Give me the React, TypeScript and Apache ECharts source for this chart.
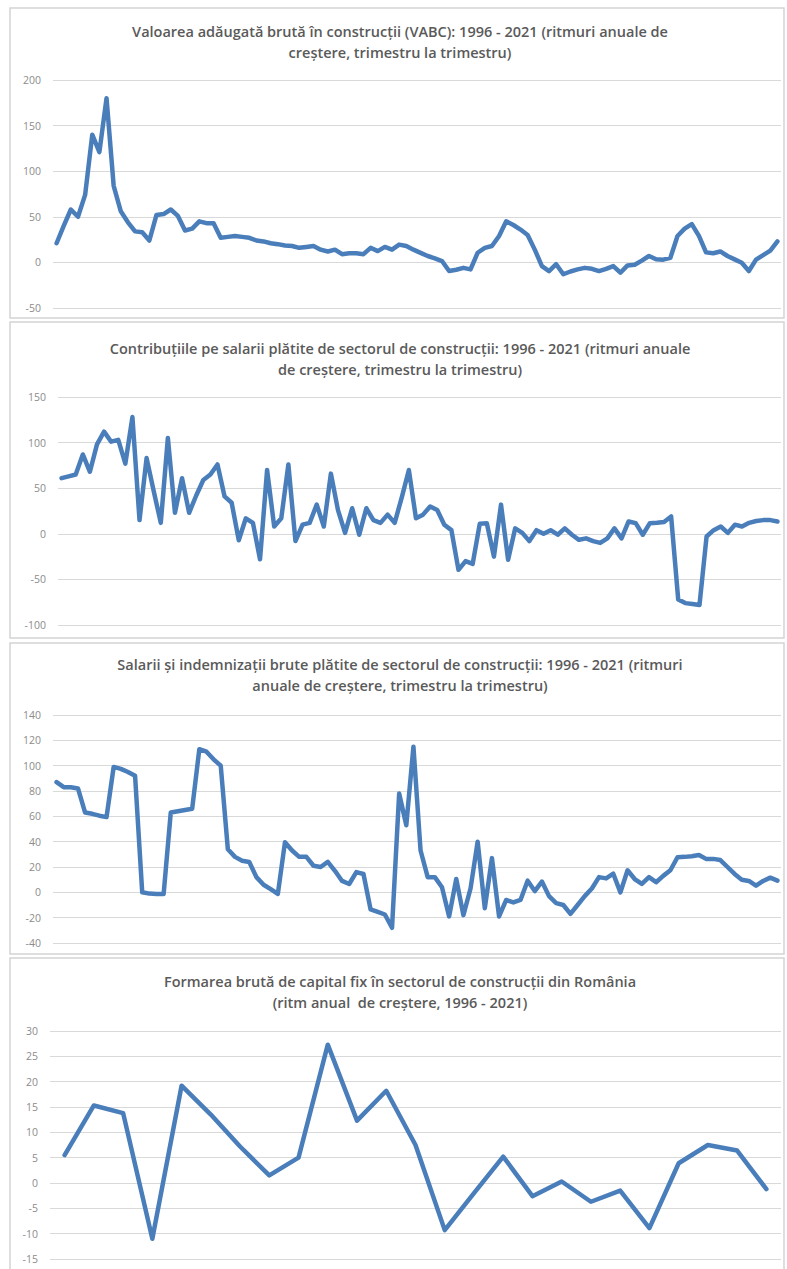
import React, { useEffect, useRef } from "react";
import * as echarts from "echarts";

// ---------- data ----------
const quarterYears = [
  1996, 1997, 1998, 1999, 2000, 2001, 2002, 2003, 2004, 2005, 2006, 2007, 2008,
  2009, 2010, 2011, 2012, 2013, 2014, 2015, 2016, 2017, 2018, 2019, 2020, 2021,
];
const quarterCategories: string[] = [];
quarterYears.forEach((y) => {
  for (let q = 1; q <= 4; q++) {
    if (y === 2021 && q > 2) break;
    quarterCategories.push(y + " T" + q);
  }
});
const annualCategories = [
  "1997", "1998", "1999", "2000", "2001", "2002", "2003", "2004", "2005", "2006",
  "2007", "2008", "2009", "2010", "2011", "2012", "2013", "2014", "2015", "2016",
  "2017", "2018", "2019", "2020", "2021",
];

// Valoarea adăugată brută în construcții (VABC)
const vabc = [
  21, 40, 58, 50, 74, 140, 121, 180, 84, 56, 44, 34, 33, 24, 52, 53, 58, 51, 35, 37,
  45, 43, 43, 27, 28, 29, 28, 27, 24, 23, 21, 20, 18.6, 18, 16, 17, 18, 14, 12, 14,
  9, 10, 10, 9, 16, 12.4, 17, 14, 19.5, 18, 14, 10.5, 7, 4.5, 1.5, -9.5, -8, -6, -7.7, 10.6,
  16, 18, 29, 45, 41, 36, 30, 14, -4, -9.5, -2, -13, -10, -7.7, -6, -7, -9.5, -7, -4, -11.3,
  -3.3, -2.5, 2, 7, 3.5, 3, 5, 29, 37, 42, 29, 11, 10, 12, 7, 3.3, -0.4, -9.5, 3, 8,
  13, 23,
];

// Contribuțiile pe salarii
const contributii = [
  61, 63, 65, 87, 68, 98, 112, 101, 103, 77, 128, 15, 83, 47, 12, 105, 23, 61, 23, 42,
  59, 65, 76, 41, 34, -7, 17, 12, -28, 70, 8, 17, 76, -8, 10, 12, 32, 8, 66, 26,
  1, 28, -1, 28, 15, 12, 21, 12, 40, 70, 17, 21, 30, 26, 10, 4, -39.5, -30, -33, 11,
  11.5, -25, 32, -28.5, 6, 1, -8, 4, 0, 4, -1, 6, -1, -6.6, -5, -8, -10, -5, 6, -5,
  13.5, 11.7, -1, 11.7, 12, 13, 19, -72, -76, -77, -78, -3, 4, 8, 1, 10, 8, 12, 14, 15,
  15, 13.5,
];

// Salarii și indemnizații brute
const salarii = [
  87, 83, 83, 82, 63, 62, 60.5, 59.4, 99, 97.5, 95, 92, 0, -1, -1.3, -1.3, 63, 64, 65, 66,
  113, 111, 105, 100, 34, 28, 25, 24, 12, 6, 2.5, -1.3, 39.5, 33, 28, 28, 21, 20, 24, 17,
  9, 6.6, 16, 14.5, -13.5, -15.5, -17.5, -28, 78, 53, 115, 33, 12, 12, 4, -19, 10.5, -18, 3, 40,
  -12.5, 27, -19, -6, -8, -6, 9.2, 1, 8.5, -3, -8.5, -10, -17, -10, -3, 3, 12, 11, 14.7, 0,
  17.4, 10.5, 6.6, 12, 8, 13, 17.4, 27.7, 28, 28.5, 29.5, 26.4, 26.4, 25.5, 20, 14.5, 10, 9, 5.3, 9,
  11.6, 9.2,
];

// Formarea brută de capital fix (anual)
const fbcf = [
  5.5, 15.3, 13.8, -11, 19.2, 13.5, 7.2, 1.5, 5, 27.3, 12.3, 18.2, 7.5, -9.3, -2, 5.2,
  -2.6, 0.3, -3.7, -1.5, -8.9, 3.9, 7.5, 6.4, -1.2,
];

const titles = [
  "Valoarea adăugată brută în construcții (VABC): 1996 - 2021 (ritmuri anuale de\ncreștere, trimestru la trimestru)",
  "Contribuțiile pe salarii plătite de sectorul de construcții: 1996 - 2021 (ritmuri anuale\nde creștere, trimestru la trimestru)",
  "Salarii și indemnizații brute plătite de sectorul de construcții: 1996 - 2021 (ritmuri\nanuale de creștere, trimestru la trimestru)",
  "Formarea brută de capital fix în sectorul de construcții din România\n(ritm anual  de creștere, 1996 - 2021)",
];

const yMins = [-50, -100, -40, -15];
const yMaxs = [200, 150, 140, 30];
const yIntervals = [50, 50, 20, 5];

// ---------- layout ----------
const panels = [
  { y: 8, h: 310, titleTop: 21, grid: { left: 53, top: 80, width: 728, height: 228 } },
  { y: 322, h: 316, titleTop: 338, grid: { left: 58, top: 397, width: 723, height: 228 } },
  { y: 643, h: 311, titleTop: 654, grid: { left: 53, top: 715, width: 728, height: 228 } },
  { y: 958, h: 330, titleTop: 971, grid: { left: 50, top: 1031, width: 731, height: 228 } },
];

const LINE_COLOR = "#4a7ebb";
const TITLE_FONT = "'Open Sans', 'Noto Sans', sans-serif";
const LABEL_FONT = "'Open Sans', 'Noto Sans', sans-serif";

export default function App() {
  const ref = useRef<HTMLDivElement>(null);

  useEffect(() => {
    if (!ref.current) return;
    const chart = echarts.init(ref.current, undefined, { renderer: "svg" });

    const seriesData = [vabc, contributii, salarii, fbcf];
    const cats = [quarterCategories, quarterCategories, quarterCategories, annualCategories];

    const graphic: any[] = [];
    panels.forEach((p, i) => {
      graphic.push({
        type: "rect",
        silent: true,
        z: -10,
        shape: { x: 10, y: p.y, width: 774, height: p.h },
        style: { fill: "none", stroke: "#d4d4d4", lineWidth: 1.5 },
      });
      graphic.push({
        type: "text",
        silent: true,
        x: 400,
        y: p.titleTop,
        style: {
          text: titles[i],
          align: "center",
          verticalAlign: "top",
          fill: "#5a5a5a",
          font: "600 14.5px " + TITLE_FONT,
          lineHeight: 21,
        },
      });
    });

    const option: any = {
      animation: false,
      backgroundColor: "#ffffff",
      graphic,
      grid: panels.map((p) => ({ ...p.grid, containLabel: false })),
      xAxis: panels.map((_, i) => ({
        type: "category",
        gridIndex: i,
        data: cats[i],
        boundaryGap: true,
        axisLine: { show: false },
        axisTick: { show: false },
        axisLabel: { show: false },
        splitLine: { show: false },
      })),
      yAxis: panels.map((_, i) => ({
        type: "value",
        gridIndex: i,
        min: yMins[i],
        max: yMaxs[i],
        interval: yIntervals[i],
        axisLine: { show: false },
        axisTick: { show: false },
        axisLabel: {
          color: "#8c8c8c",
          fontSize: 10.5,
          fontFamily: LABEL_FONT,
          margin: 12,
        },
        splitLine: { show: true, lineStyle: { color: "#d9d9d9", width: 1 } },
      })),
      series: seriesData.map((d, i) => ({
        type: "line",
        xAxisIndex: i,
        yAxisIndex: i,
        data: d,
        showSymbol: false,
        symbol: "none",
        lineStyle: { color: LINE_COLOR, width: 4.5, join: "round", cap: "round" },
        itemStyle: { color: LINE_COLOR },
      })),
    };

    chart.setOption(option);
    return () => chart.dispose();
  }, []);

  return (
    <div
      ref={ref}
      style={{ position: "absolute", left: 0, top: 0, width: 787, height: 1269 }}
    />
  );
}
